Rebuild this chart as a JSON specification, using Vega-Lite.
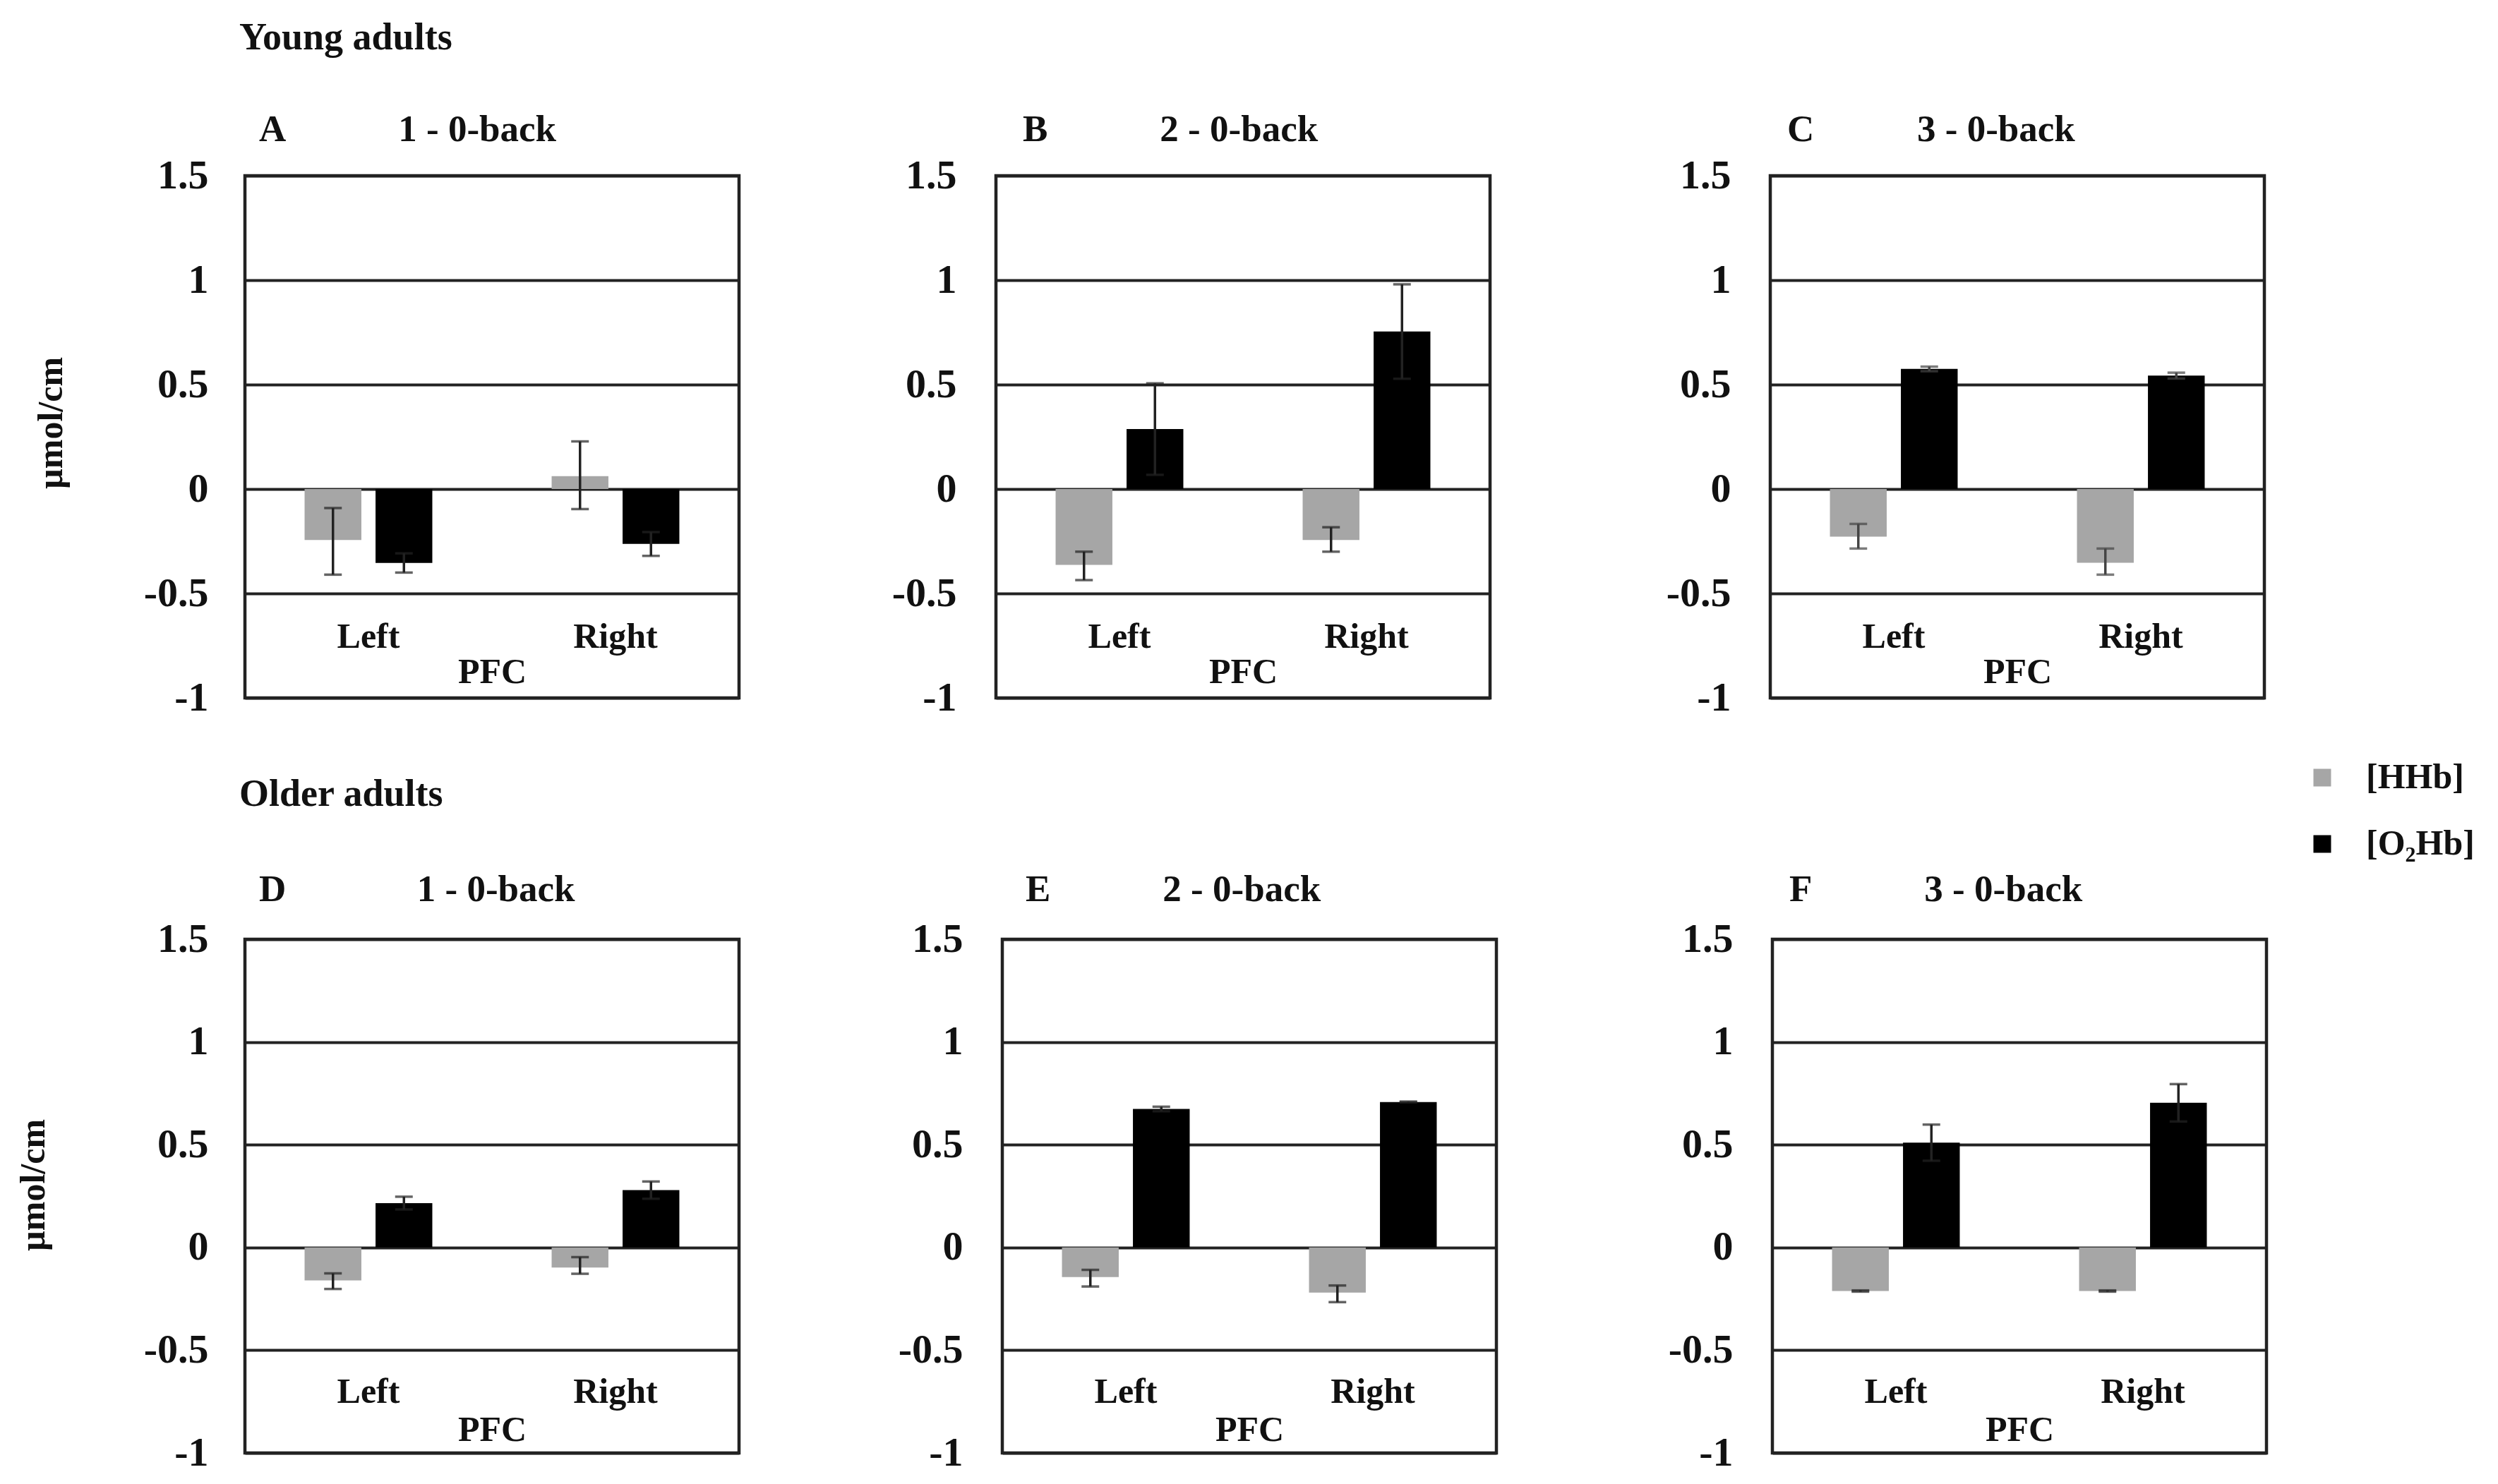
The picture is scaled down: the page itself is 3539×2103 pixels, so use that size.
{
  "$schema": "https://vega.github.io/schema/vega-lite/v6.json",
  "background": "white",
  "padding": {"left": 19, "top": 26, "right": 10, "bottom": 10},
  "datasets": {
    "d": [
      {"panel": "A", "side": "Left", "type": "[HHb]", "value": -0.244, "lo": -0.41, "hi": -0.091},
      {"panel": "A", "side": "Left", "type": "[O₂Hb]", "value": -0.354, "lo": -0.4, "hi": -0.308},
      {"panel": "A", "side": "Right", "type": "[HHb]", "value": 0.062, "lo": -0.096, "hi": 0.228},
      {"panel": "A", "side": "Right", "type": "[O₂Hb]", "value": -0.263, "lo": -0.32, "hi": -0.206},
      {"panel": "B", "side": "Left", "type": "[HHb]", "value": -0.363, "lo": -0.436, "hi": -0.3},
      {"panel": "B", "side": "Left", "type": "[O₂Hb]", "value": 0.287, "lo": 0.068, "hi": 0.506},
      {"panel": "B", "side": "Right", "type": "[HHb]", "value": -0.244, "lo": -0.3, "hi": -0.183},
      {"panel": "B", "side": "Right", "type": "[O₂Hb]", "value": 0.754, "lo": 0.528, "hi": 0.98},
      {"panel": "C", "side": "Left", "type": "[HHb]", "value": -0.228, "lo": -0.285, "hi": -0.167},
      {"panel": "C", "side": "Left", "type": "[O₂Hb]", "value": 0.575, "lo": 0.564, "hi": 0.586},
      {"panel": "C", "side": "Right", "type": "[HHb]", "value": -0.353, "lo": -0.41, "hi": -0.285},
      {"panel": "C", "side": "Right", "type": "[O₂Hb]", "value": 0.543, "lo": 0.529, "hi": 0.557},
      {"panel": "D", "side": "Left", "type": "[HHb]", "value": -0.16, "lo": -0.202, "hi": -0.126},
      {"panel": "D", "side": "Left", "type": "[O₂Hb]", "value": 0.216, "lo": 0.185, "hi": 0.247},
      {"panel": "D", "side": "Right", "type": "[HHb]", "value": -0.098, "lo": -0.128, "hi": -0.047},
      {"panel": "D", "side": "Right", "type": "[O₂Hb]", "value": 0.279, "lo": 0.237, "hi": 0.321},
      {"panel": "E", "side": "Left", "type": "[HHb]", "value": -0.144, "lo": -0.19, "hi": -0.109},
      {"panel": "E", "side": "Left", "type": "[O₂Hb]", "value": 0.674, "lo": 0.663, "hi": 0.685},
      {"panel": "E", "side": "Right", "type": "[HHb]", "value": -0.22, "lo": -0.266, "hi": -0.185},
      {"panel": "E", "side": "Right", "type": "[O₂Hb]", "value": 0.708, "lo": 0.706, "hi": 0.71},
      {"panel": "F", "side": "Left", "type": "[HHb]", "value": -0.212, "lo": -0.215, "hi": -0.209},
      {"panel": "F", "side": "Left", "type": "[O₂Hb]", "value": 0.51, "lo": 0.422, "hi": 0.598},
      {"panel": "F", "side": "Right", "type": "[HHb]", "value": -0.212, "lo": -0.215, "hi": -0.209},
      {"panel": "F", "side": "Right", "type": "[O₂Hb]", "value": 0.704, "lo": 0.613, "hi": 0.795}
    ]
  },
  "config": {
    "font": "Liberation Serif",
    "view": {"stroke": "#222222", "strokeWidth": 4.5},
    "title": {"font": "Liberation Serif", "fontSize": 53, "fontWeight": "bold", "color": "#111111", "anchor": "start", "frame": "group", "baseline": "alphabetic"},
    "axis": {"labelFont": "Liberation Serif", "titleFont": "Liberation Serif", "labelFontSize": 50, "labelFontWeight": "bold", "titleFontSize": 50, "titleFontWeight": "bold", "labelColor": "#111111", "titleColor": "#111111", "ticks": false, "tickSize": 0, "domain": false},
    "legend": {"orient": "none", "legendX": 2918, "legendY": 828, "padding": 0, "symbolType": "square", "symbolSize": 625, "symbolStrokeWidth": 0, "labelFont": "Liberation Serif", "labelFontSize": 50, "labelFontWeight": "bold", "labelColor": "#111111", "labelOffset": 37, "rowPadding": 44},
    "bar": {"stroke": null}
  },
  "bounds": "flush",
  "spacing": 1082,
  "vconcat": [
    {
      "title": {"text": "Young adults", "dx": -8, "offset": 75, "fontSize": 54},
      "bounds": "flush",
      "spacing": 364,
      "hconcat": [
        {
          "width": 700, "height": 740,
          "title": {"text": "A\u00a0\u00a0\u00a0\u00a0\u00a0\u00a0\u00a0\u00a0\u00a0\u00a0\u00a0\u00a01 - 0-back", "dx": 20, "offset": 9},
          "data": {"name": "d"},
          "transform": [{"filter": "datum.panel === 'A'"}],
          "encoding": {
            "x": {"field": "side", "type": "nominal", "sort": ["Left", "Right"], "scale": {"paddingInner": 0.483, "paddingOuter": 0.2415}, "axis": {"title": "PFC", "labelAngle": 0, "offset": -110, "labelPadding": 38, "labelBaseline": "alphabetic", "titleY": 88, "titleBaseline": "alphabetic", "grid": false}},
            "xOffset": {"field": "type", "type": "nominal", "sort": ["[HHb]", "[O₂Hb]"], "scale": {"paddingInner": 0.2, "paddingOuter": 0}}
          },
          "layer": [
            {"mark": {"type": "bar"}, "encoding": {
              "y": {"field": "value", "type": "quantitative", "title": "µmol/cm", "scale": {"domain": [-1, 1.5], "nice": false, "zero": false}, "axis": {"values": [-1, -0.5, 0, 0.5, 1, 1.5], "labelExpr": "datum.value < 0 ? '-' + format(-datum.value, '~g') : format(datum.value, '~g')", "labelFontSize": 58, "labelPadding": 52, "grid": true, "gridColor": "#222222", "gridWidth": 4, "gridOpacity": 1, "titleX": -275, "titleY": 350, "titleAngle": 270, "titleBaseline": "middle", "titleAlign": "center"}},
              "color": {"field": "type", "type": "nominal", "sort": ["[HHb]", "[O₂Hb]"], "title": null, "scale": {"domain": ["[HHb]", "[O₂Hb]"], "range": ["#a6a6a6", "#000000"]}}}},
            {"mark": {"type": "rule", "color": "#222222", "strokeWidth": 3.5}, "encoding": {"y": {"field": "lo", "type": "quantitative", "title": "µmol/cm"}, "y2": {"field": "hi"}}},
            {"mark": {"type": "tick", "orient": "horizontal", "size": 25, "thickness": 3.5, "color": "#222222"}, "encoding": {"y": {"field": "lo", "type": "quantitative", "title": "µmol/cm"}}},
            {"mark": {"type": "tick", "orient": "horizontal", "size": 25, "thickness": 3.5, "color": "#222222"}, "encoding": {"y": {"field": "hi", "type": "quantitative", "title": "µmol/cm"}}}
          ]
        },
        {
          "bounds": "flush",
          "spacing": 397,
          "hconcat": [
            {
              "width": 700, "height": 740,
              "title": {"text": "B\u00a0\u00a0\u00a0\u00a0\u00a0\u00a0\u00a0\u00a0\u00a0\u00a0\u00a0\u00a02 - 0-back", "dx": 38, "offset": 9},
              "data": {"name": "d"},
              "transform": [{"filter": "datum.panel === 'B'"}],
              "encoding": {
                "x": {"field": "side", "type": "nominal", "sort": ["Left", "Right"], "scale": {"paddingInner": 0.483, "paddingOuter": 0.2415}, "axis": {"title": "PFC", "labelAngle": 0, "offset": -110, "labelPadding": 38, "labelBaseline": "alphabetic", "titleY": 88, "titleBaseline": "alphabetic", "grid": false}},
                "xOffset": {"field": "type", "type": "nominal", "sort": ["[HHb]", "[O₂Hb]"], "scale": {"paddingInner": 0.2, "paddingOuter": 0}}
              },
              "layer": [
                {"mark": {"type": "bar"}, "encoding": {
                  "y": {"field": "value", "type": "quantitative", "title": null, "scale": {"domain": [-1, 1.5], "nice": false, "zero": false}, "axis": {"values": [-1, -0.5, 0, 0.5, 1, 1.5], "labelExpr": "datum.value < 0 ? '-' + format(-datum.value, '~g') : format(datum.value, '~g')", "labelFontSize": 58, "labelPadding": 56, "grid": true, "gridColor": "#222222", "gridWidth": 4, "gridOpacity": 1}},
                  "color": {"field": "type", "type": "nominal", "sort": ["[HHb]", "[O₂Hb]"], "title": null, "scale": {"domain": ["[HHb]", "[O₂Hb]"], "range": ["#a6a6a6", "#000000"]}}}},
                {"mark": {"type": "rule", "color": "#222222", "strokeWidth": 3.5}, "encoding": {"y": {"field": "lo", "type": "quantitative", "title": null}, "y2": {"field": "hi"}}},
                {"mark": {"type": "tick", "orient": "horizontal", "size": 25, "thickness": 3.5, "color": "#222222"}, "encoding": {"y": {"field": "lo", "type": "quantitative", "title": null}}},
                {"mark": {"type": "tick", "orient": "horizontal", "size": 25, "thickness": 3.5, "color": "#222222"}, "encoding": {"y": {"field": "hi", "type": "quantitative", "title": null}}}
              ]
            },
            {
              "width": 700, "height": 740,
              "title": {"text": "C\u00a0\u00a0\u00a0\u00a0\u00a0\u00a0\u00a0\u00a0\u00a0\u00a0\u00a03 - 0-back", "dx": 24, "offset": 9},
              "data": {"name": "d"},
              "transform": [{"filter": "datum.panel === 'C'"}],
              "encoding": {
                "x": {"field": "side", "type": "nominal", "sort": ["Left", "Right"], "scale": {"paddingInner": 0.483, "paddingOuter": 0.2415}, "axis": {"title": "PFC", "labelAngle": 0, "offset": -110, "labelPadding": 38, "labelBaseline": "alphabetic", "titleY": 88, "titleBaseline": "alphabetic", "grid": false}},
                "xOffset": {"field": "type", "type": "nominal", "sort": ["[HHb]", "[O₂Hb]"], "scale": {"paddingInner": 0.2, "paddingOuter": 0}}
              },
              "layer": [
                {"mark": {"type": "bar"}, "encoding": {
                  "y": {"field": "value", "type": "quantitative", "title": null, "scale": {"domain": [-1, 1.5], "nice": false, "zero": false}, "axis": {"values": [-1, -0.5, 0, 0.5, 1, 1.5], "labelExpr": "datum.value < 0 ? '-' + format(-datum.value, '~g') : format(datum.value, '~g')", "labelFontSize": 58, "labelPadding": 56, "grid": true, "gridColor": "#222222", "gridWidth": 4, "gridOpacity": 1}},
                  "color": {"field": "type", "type": "nominal", "sort": ["[HHb]", "[O₂Hb]"], "title": null, "scale": {"domain": ["[HHb]", "[O₂Hb]"], "range": ["#a6a6a6", "#000000"]}}}},
                {"mark": {"type": "rule", "color": "#444444", "strokeWidth": 3.5}, "encoding": {"y": {"field": "lo", "type": "quantitative", "title": null}, "y2": {"field": "hi"}}},
                {"mark": {"type": "tick", "orient": "horizontal", "size": 25, "thickness": 3.5, "color": "#444444"}, "encoding": {"y": {"field": "lo", "type": "quantitative", "title": null}}},
                {"mark": {"type": "tick", "orient": "horizontal", "size": 25, "thickness": 3.5, "color": "#444444"}, "encoding": {"y": {"field": "hi", "type": "quantitative", "title": null}}}
              ]
            }
          ]
        }
      ]
    },
    {
      "title": {"text": "Older adults", "dx": -8, "offset": 80, "fontSize": 54},
      "bounds": "flush",
      "spacing": 373,
      "hconcat": [
        {
          "width": 700, "height": 728,
          "title": {"text": "D\u00a0\u00a0\u00a0\u00a0\u00a0\u00a0\u00a0\u00a0\u00a0\u00a0\u00a0\u00a0\u00a0\u00a01 - 0-back", "dx": 20, "offset": 14},
          "data": {"name": "d"},
          "transform": [{"filter": "datum.panel === 'D'"}],
          "encoding": {
            "x": {"field": "side", "type": "nominal", "sort": ["Left", "Right"], "scale": {"paddingInner": 0.483, "paddingOuter": 0.2415}, "axis": {"title": "PFC", "labelAngle": 0, "offset": -110, "labelPadding": 38, "labelBaseline": "alphabetic", "titleY": 92, "titleBaseline": "alphabetic", "grid": false}},
            "xOffset": {"field": "type", "type": "nominal", "sort": ["[HHb]", "[O₂Hb]"], "scale": {"paddingInner": 0.2, "paddingOuter": 0}}
          },
          "layer": [
            {"mark": {"type": "bar"}, "encoding": {
              "y": {"field": "value", "type": "quantitative", "title": "µmol/cm", "scale": {"domain": [-1, 1.5], "nice": false, "zero": false}, "axis": {"values": [-1, -0.5, 0, 0.5, 1, 1.5], "labelExpr": "datum.value < 0 ? '-' + format(-datum.value, '~g') : format(datum.value, '~g')", "labelFontSize": 58, "labelPadding": 52, "grid": true, "gridColor": "#222222", "gridWidth": 4, "gridOpacity": 1, "titleX": -300, "titleY": 348, "titleAngle": 270, "titleBaseline": "middle", "titleAlign": "center"}},
              "color": {"field": "type", "type": "nominal", "sort": ["[HHb]", "[O₂Hb]"], "title": null, "scale": {"domain": ["[HHb]", "[O₂Hb]"], "range": ["#a6a6a6", "#000000"]}}}},
            {"mark": {"type": "rule", "color": "#222222", "strokeWidth": 3.5}, "encoding": {"y": {"field": "lo", "type": "quantitative", "title": "µmol/cm"}, "y2": {"field": "hi"}}},
            {"mark": {"type": "tick", "orient": "horizontal", "size": 25, "thickness": 3.5, "color": "#222222"}, "encoding": {"y": {"field": "lo", "type": "quantitative", "title": "µmol/cm"}}},
            {"mark": {"type": "tick", "orient": "horizontal", "size": 25, "thickness": 3.5, "color": "#222222"}, "encoding": {"y": {"field": "hi", "type": "quantitative", "title": "µmol/cm"}}}
          ]
        },
        {
          "bounds": "flush",
          "spacing": 391,
          "hconcat": [
            {
              "width": 700, "height": 728,
              "title": {"text": "E\u00a0\u00a0\u00a0\u00a0\u00a0\u00a0\u00a0\u00a0\u00a0\u00a0\u00a0\u00a02 - 0-back", "dx": 33, "offset": 14},
              "data": {"name": "d"},
              "transform": [{"filter": "datum.panel === 'E'"}],
              "encoding": {
                "x": {"field": "side", "type": "nominal", "sort": ["Left", "Right"], "scale": {"paddingInner": 0.483, "paddingOuter": 0.2415}, "axis": {"title": "PFC", "labelAngle": 0, "offset": -110, "labelPadding": 38, "labelBaseline": "alphabetic", "titleY": 92, "titleBaseline": "alphabetic", "grid": false}},
                "xOffset": {"field": "type", "type": "nominal", "sort": ["[HHb]", "[O₂Hb]"], "scale": {"paddingInner": 0.2, "paddingOuter": 0}}
              },
              "layer": [
                {"mark": {"type": "bar"}, "encoding": {
                  "y": {"field": "value", "type": "quantitative", "title": null, "scale": {"domain": [-1, 1.5], "nice": false, "zero": false}, "axis": {"values": [-1, -0.5, 0, 0.5, 1, 1.5], "labelExpr": "datum.value < 0 ? '-' + format(-datum.value, '~g') : format(datum.value, '~g')", "labelFontSize": 58, "labelPadding": 56, "grid": true, "gridColor": "#222222", "gridWidth": 4, "gridOpacity": 1}},
                  "color": {"field": "type", "type": "nominal", "sort": ["[HHb]", "[O₂Hb]"], "title": null, "scale": {"domain": ["[HHb]", "[O₂Hb]"], "range": ["#a6a6a6", "#000000"]}}}},
                {"mark": {"type": "rule", "color": "#222222", "strokeWidth": 3.5}, "encoding": {"y": {"field": "lo", "type": "quantitative", "title": null}, "y2": {"field": "hi"}}},
                {"mark": {"type": "tick", "orient": "horizontal", "size": 25, "thickness": 3.5, "color": "#222222"}, "encoding": {"y": {"field": "lo", "type": "quantitative", "title": null}}},
                {"mark": {"type": "tick", "orient": "horizontal", "size": 25, "thickness": 3.5, "color": "#222222"}, "encoding": {"y": {"field": "hi", "type": "quantitative", "title": null}}}
              ]
            },
            {
              "width": 700, "height": 728,
              "title": {"text": "F\u00a0\u00a0\u00a0\u00a0\u00a0\u00a0\u00a0\u00a0\u00a0\u00a0\u00a0\u00a03 - 0-back", "dx": 24, "offset": 14},
              "data": {"name": "d"},
              "transform": [{"filter": "datum.panel === 'F'"}],
              "encoding": {
                "x": {"field": "side", "type": "nominal", "sort": ["Left", "Right"], "scale": {"paddingInner": 0.483, "paddingOuter": 0.2415}, "axis": {"title": "PFC", "labelAngle": 0, "offset": -110, "labelPadding": 38, "labelBaseline": "alphabetic", "titleY": 92, "titleBaseline": "alphabetic", "grid": false}},
                "xOffset": {"field": "type", "type": "nominal", "sort": ["[HHb]", "[O₂Hb]"], "scale": {"paddingInner": 0.2, "paddingOuter": 0}}
              },
              "layer": [
                {"mark": {"type": "bar"}, "encoding": {
                  "y": {"field": "value", "type": "quantitative", "title": null, "scale": {"domain": [-1, 1.5], "nice": false, "zero": false}, "axis": {"values": [-1, -0.5, 0, 0.5, 1, 1.5], "labelExpr": "datum.value < 0 ? '-' + format(-datum.value, '~g') : format(datum.value, '~g')", "labelFontSize": 58, "labelPadding": 56, "grid": true, "gridColor": "#222222", "gridWidth": 4, "gridOpacity": 1}},
                  "color": {"field": "type", "type": "nominal", "sort": ["[HHb]", "[O₂Hb]"], "title": null, "scale": {"domain": ["[HHb]", "[O₂Hb]"], "range": ["#a6a6a6", "#000000"]}}}},
                {"mark": {"type": "rule", "color": "#222222", "strokeWidth": 3.5}, "encoding": {"y": {"field": "lo", "type": "quantitative", "title": null}, "y2": {"field": "hi"}}},
                {"mark": {"type": "tick", "orient": "horizontal", "size": 25, "thickness": 3.5, "color": "#222222"}, "encoding": {"y": {"field": "lo", "type": "quantitative", "title": null}}},
                {"mark": {"type": "tick", "orient": "horizontal", "size": 25, "thickness": 3.5, "color": "#222222"}, "encoding": {"y": {"field": "hi", "type": "quantitative", "title": null}}}
              ]
            }
          ]
        }
      ]
    }
  ]
}
